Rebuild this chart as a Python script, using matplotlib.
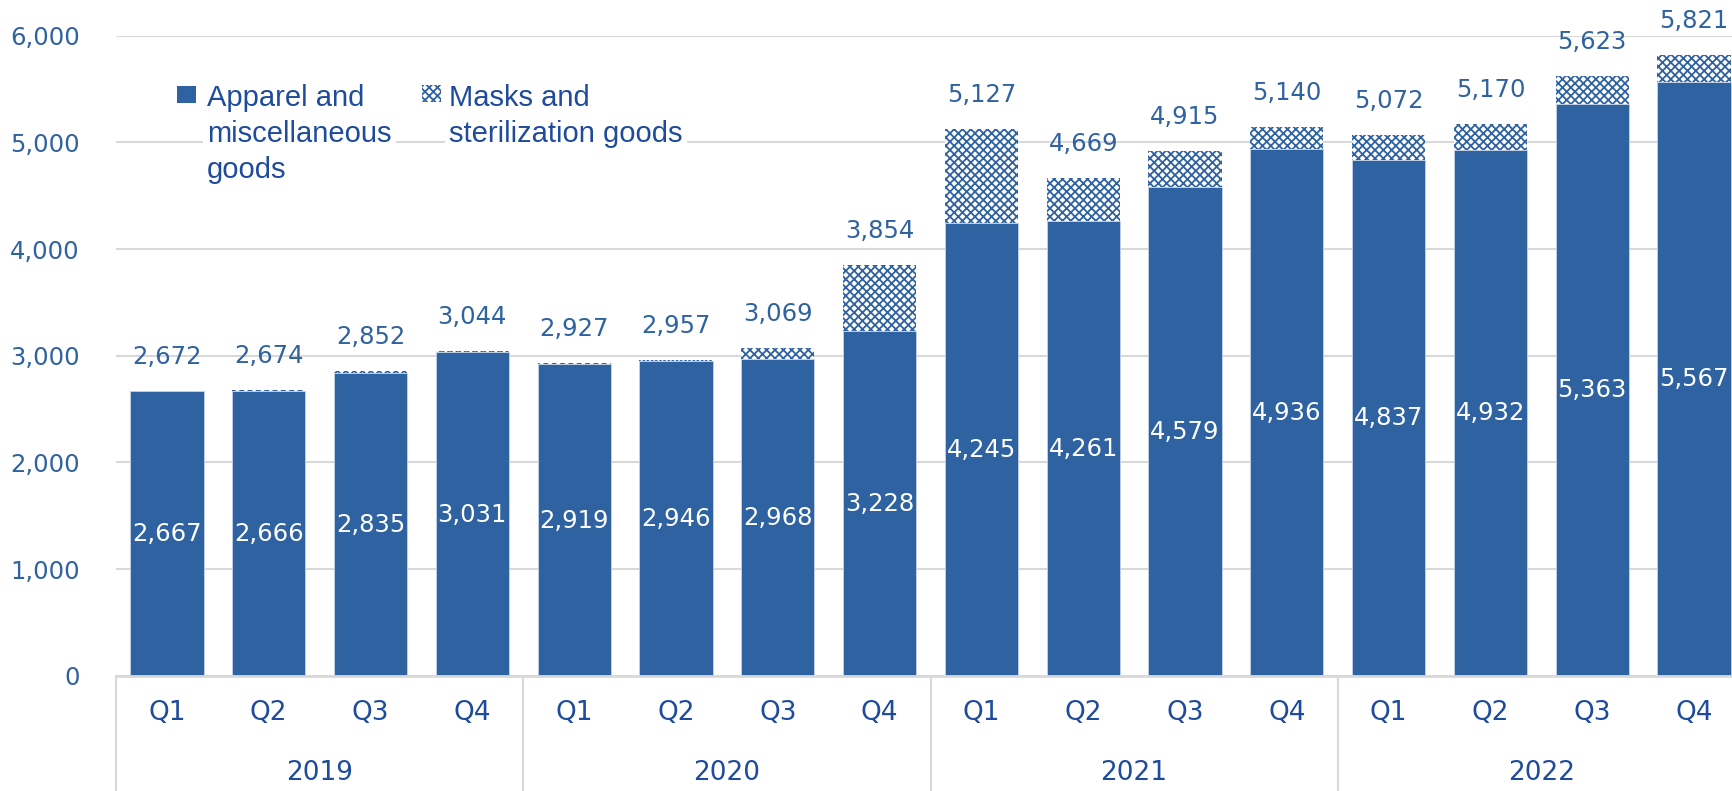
import numpy as np
import matplotlib
matplotlib.use("Agg")
import matplotlib.pyplot as plt
from matplotlib.patches import Rectangle
from matplotlib.ticker import FuncFormatter

# quarterly sales, two product groups stacked
years = ["2019", "2020", "2021", "2022"]
quarters = ["Q1", "Q2", "Q3", "Q4"]
apparel = np.array([2667, 2666, 2835, 3031,
                    2919, 2946, 2968, 3228,
                    4245, 4261, 4579, 4936,
                    4837, 4932, 5363, 5567])
totals = np.array([2672, 2674, 2852, 3044,
                   2927, 2957, 3069, 3854,
                   5127, 4669, 4915, 5140,
                   5072, 5170, 5623, 5821])
masks = totals - apparel

series_names = ["Apparel and\nmiscellaneous\ngoods",
                "Masks and\nsterilization goods"]

BAR_BLUE = "#2F62A0"
LABEL_BLUE = "#2F62A0"
DARK_BLUE = "#1E4B9B"
GRID_GREY = "#D9D9D9"
MASK_HATCH = "xxxx"

plt.rcParams["hatch.linewidth"] = 1.3

W, H = 1732, 791
fig = plt.figure(figsize=(W / 100, H / 100), dpi=100)
ax = fig.add_axes([116 / W, 1 - 675.7 / H, (1745 - 116) / W, (675.7 - 35.7) / H])

x = np.arange(len(apparel))
ax.bar(x, apparel, width=0.72, color=BAR_BLUE, edgecolor="#C5D3E8",
       linewidth=0.6, zorder=2)
ax.bar(x, masks, width=0.72, bottom=apparel, color="white",
       edgecolor=BAR_BLUE, linewidth=0, hatch=MASK_HATCH, zorder=2)

# value labels: apparel inside, total above
for i in x:
    ax.annotate(f"{apparel[i]:,}", xy=(i, apparel[i] / 2), xytext=(0, -5.5),
                textcoords="offset points", ha="center", va="baseline",
                color="white", fontsize=17.5)
    ax.annotate(f"{totals[i]:,}", xy=(i, totals[i]), xytext=(0, 19.5),
                textcoords="offset points", ha="center", va="baseline",
                color=LABEL_BLUE, fontsize=17.5)

ax.set_xlim(-0.5, len(x) - 0.5)
ax.set_ylim(0, 6000)
ax.set_yticks(np.arange(0, 6001, 1000))
ax.yaxis.set_major_formatter(FuncFormatter(lambda v, _: f"{int(v):,}"))
ax.tick_params(axis="y", length=0, pad=26, labelsize=17.5, labelcolor=LABEL_BLUE)
ax.set_xticks([])
ax.grid(axis="y", color=GRID_GREY, linewidth=1.5, zorder=0)
ax.set_axisbelow(True)
for side in ["left", "right", "top"]:
    ax.spines[side].set_visible(False)
ax.spines["bottom"].set_color(GRID_GREY)
ax.spines["bottom"].set_linewidth(2)

# two-level category axis: quarters, then years with separators
for i in x:
    ax.text(i, -0.058, quarters[i % 4], transform=ax.get_xaxis_transform(),
            ha="center", va="center", fontsize=19, color=DARK_BLUE)
for k, yr in enumerate(years):
    ax.text(4 * k + 1.5, -0.152, yr, transform=ax.get_xaxis_transform(),
            ha="center", va="center", fontsize=19, color=DARK_BLUE)
for k in range(len(years) + 1):
    ax.plot([4 * k - 0.5] * 2, [0, -0.2], transform=ax.get_xaxis_transform(),
            color=GRID_GREY, linewidth=1.5, clip_on=False)

# legend drawn by hand so the swatch sits beside the first text line
def px(xp, yp):
    return xp / W, 1 - yp / H

fig.patches.append(Rectangle(px(177, 103), 19 / W, 17 / H, transform=fig.transFigure,
                             facecolor=BAR_BLUE, edgecolor="none"))
fig.patches.append(Rectangle(px(422, 102), 19 / W, 17 / H, transform=fig.transFigure,
                             facecolor="white", edgecolor=BAR_BLUE, linewidth=0,
                             hatch=MASK_HATCH))
for (lx, name) in [(207, series_names[0]), (449, series_names[1])]:
    fig.text(*px(lx, 84), name, ha="left", va="top", fontsize=21,
             family="Liberation Sans", color=DARK_BLUE, linespacing=1.37,
             bbox=dict(facecolor="white", edgecolor="none", pad=3))

fig.savefig("out.png", dpi=100)
